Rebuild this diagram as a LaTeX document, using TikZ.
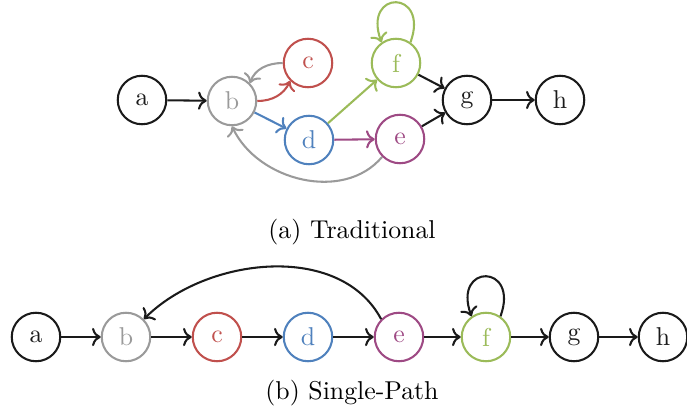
\documentclass[tikz,border=0pt]{standalone}
\usetikzlibrary{arrows.meta}
\definecolor{cgray}{HTML}{9A9A9A}
\definecolor{cred}{HTML}{C0504D}
\definecolor{cblue}{HTML}{4F81BD}
\definecolor{cpurple}{HTML}{9E4A84}
\definecolor{cgreen}{HTML}{9BBB59}
\definecolor{cblack}{HTML}{1A1A1A}
\begin{document}
\begin{tikzpicture}[x=0.3876pt,y=-0.3876pt,
  vtx/.style={circle,draw=#1,text=#1,line width=0.8pt,minimum size=18.8pt,inner sep=0pt,font=\normalsize},
  vtx/.default=cblack,
  edge/.style={->,line width=0.8pt,draw=#1},
  edge/.default=cblack,
  selfloop/.style={out=70,in=110,looseness=5}]
\useasboundingbox (0,0) rectangle (687,409);
% top graph
\node[vtx] (a1) at (142,100) {a};
\node[vtx=cgray] (b1) at (232,101) {b};
\node[vtx=cred] (c1) at (308,63) {c};
\node[vtx=cblue] (d1) at (309,140) {d};
\node[vtx=cpurple] (e1) at (400,139) {e};
\node[vtx=cgreen] (f1) at (396,63) {f};
\node[vtx] (g1) at (467,100) {g};
\node[vtx] (h1) at (560,100) {h};
\draw[edge] (a1) -- (b1);
\draw[edge=cred] (b1.east) to[out=0,in=-115] (c1.south west);
\draw[edge=cgray] (c1.west) to[out=180,in=70] (b1.north east);
\draw[edge=cblue] (b1) -- (d1);
\draw[edge=cgreen] (d1) -- (f1);
\draw[edge=cpurple] (d1) -- (e1);
\draw[edge=cgray] (e1.south west) to[out=-130,in=-65,looseness=1.0] (b1.south);
\draw[edge=cgreen] (f1.55) to[selfloop] (f1.125);
\draw[edge] (f1) -- (g1);
\draw[edge] (e1) -- (g1);
\draw[edge] (g1) -- (h1);
\node (capa) at (352,232) {(a) Traditional};
% bottom graph
\node[vtx] (a2) at (36,337) {a};
\node[vtx=cgray] (b2) at (126,337) {b};
\node[vtx=cred] (c2) at (217,337) {c};
\node[vtx=cblue] (d2) at (308,337) {d};
\node[vtx=cpurple] (e2) at (399,337) {e};
\node[vtx=cgreen] (f2) at (486,337) {f};
\node[vtx] (g2) at (574,337) {g};
\node[vtx] (h2) at (663,337) {h};
\draw[edge] (a2) -- (b2);
\draw[edge] (b2) -- (c2);
\draw[edge] (c2) -- (d2);
\draw[edge] (d2) -- (e2);
\draw[edge] (e2) -- (f2);
\draw[edge] (f2) -- (g2);
\draw[edge] (g2) -- (h2);
\draw[edge] (e2.north west) to[out=118,in=45,looseness=0.95] (b2.north east);
\draw[edge] (f2.55) to[selfloop] (f2.125);
\node (capb) at (352,393) {(b) Single-Path};
\end{tikzpicture}
\end{document}
